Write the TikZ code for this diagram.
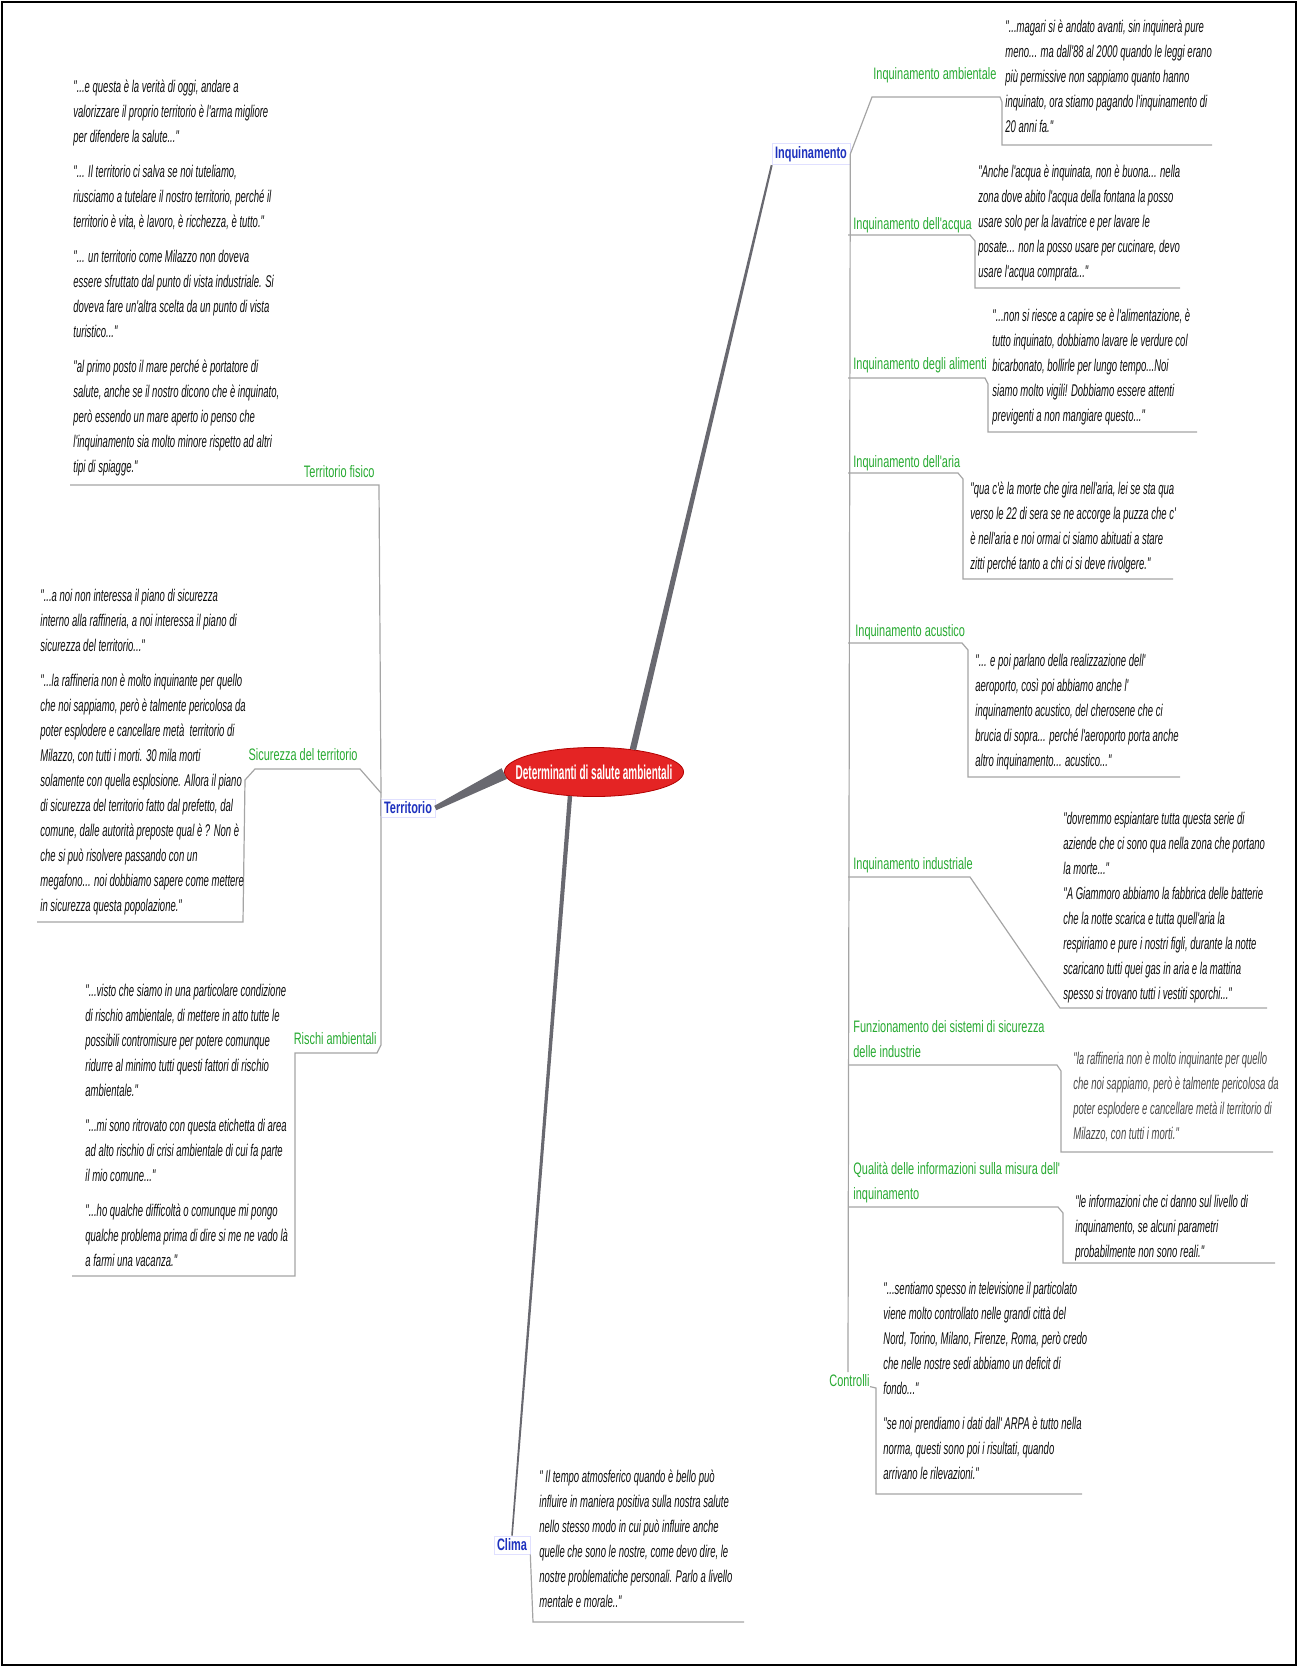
\documentclass[tikz,border=0pt]{standalone}
\usepackage{fontspec}
\setmainfont{Liberation Sans}
\newfontfamily\qfont[FakeStretch=0.56]{Liberation Sans}
\newfontfamily\lfont[FakeStretch=0.66]{Liberation Sans}
\newfontfamily\cfont[FakeStretch=0.5]{Liberation Sans}
\usetikzlibrary{shapes.geometric,calc}
\definecolor{lgreen}{RGB}{40,170,50}
\definecolor{lblue}{RGB}{30,50,190}
\definecolor{lgray}{RGB}{165,165,165}
\definecolor{bgray}{RGB}{105,105,112}
\definecolor{rootred}{RGB}{228,36,36}
\tikzset{
 quote/.style={font=\qfont\itshape\fontsize{8.5pt}{12.5pt}\selectfont, text=black!95, align=left, inner sep=0pt, anchor=north west},
 sub/.style={font=\lfont\fontsize{8.3pt}{12.5pt}\selectfont, text=lgreen, align=left, inner sep=0pt},
 mainlab/.style={font=\lfont\bfseries\fontsize{8.3pt}{10pt}\selectfont, text=lblue, draw=blue!12, fill=white, inner sep=1.5pt},
 thinline/.style={draw=lgray, line width=0.6pt},
 branch/.style={fill=bgray},
}
\newcommand\mybranch[4]{\fill[branch] ($(#1)!#3!90:(#2)$) -- ($(#2)!#4!-90:(#1)$) -- ($(#2)!#4!90:(#1)$) -- ($(#1)!#3!-90:(#2)$) -- cycle;}
\begin{document}
\begin{tikzpicture}[x=0.5pt,y=-0.5pt]
\useasboundingbox (0,0) rectangle (1298,1667);
\draw[line width=0.8pt] (2,2) rectangle (1296,1665);

% root and main topics
\node[ellipse, fill=rootred, draw=red!70!black, line width=0.4pt, inner xsep=-7.5pt, inner ysep=5pt,
  font=\cfont\bfseries\fontsize{10pt}{12pt}\selectfont, text=white] (root) at (594,772) {Determinanti di salute ambientali};
\node[mainlab] (inq) at (811,154) {Inquinamento};
\node[mainlab] (terr) at (408,808) {Territorio};
\node[mainlab] (clima) at (512,1545) {Clima};

\mybranch{root.30}{inq.south west}{1.6pt}{0.5pt}
\mybranch{root.181}{terr.east}{3pt}{1.2pt}
\mybranch{root.225}{clima.north}{1.1pt}{0.4pt}

% ---------- Territorio ----------
\node[sub, anchor=base east] (tf) at (375,477) {Territorio fisico};
\node[sub, anchor=base east] (sic) at (358,760) {Sicurezza del territorio};
\node[sub, anchor=base east] (ris) at (377,1044) {Rischi ambientali};

\draw[thinline] (terr.west) -- (381,793) -- (379,485) -- (70,485);
\draw[thinline] (381,793) -- (360,769) -- (255,769) -- (245,780) -- (243,922) -- (37,922);
\draw[thinline] (terr.west) -- (381,822) -- (381,1045) -- (377,1053) -- (295,1053) -- (295,1276) -- (72,1276);

\node[quote] (tfq) at (73,80) {"...e questa è la verità di oggi, andare a\\
valorizzare il proprio territorio è l'arma migliore\\
per difendere la salute..."\\[5pt]
"... Il territorio ci salva se noi tuteliamo,\\
riusciamo a tutelare il nostro territorio, perché il\\
territorio è vita, è lavoro, è ricchezza, è tutto."\\[5pt]
"... un territorio come Milazzo non doveva\\
essere sfruttato dal punto di vista industriale. Si\\
doveva fare un'altra scelta da un punto di vista\\
turistico..."\\[5pt]
"al primo posto il mare perché è portatore di\\
salute, anche se il nostro dicono che è inquinato,\\
però essendo un mare aperto io penso che\\
l'inquinamento sia molto minore rispetto ad altri\\
tipi di spiagge."};

\node[quote] (sicq) at (40,589) {"...a noi non interessa il piano di sicurezza\\
interno alla raffineria, a noi interessa il piano di\\
sicurezza del territorio..."\\[5pt]
"...la raffineria non è molto inquinante per quello\\
che noi sappiamo, però è talmente pericolosa da\\
poter esplodere e cancellare metà\ \ territorio di\\
Milazzo, con tutti i morti. 30 mila morti\\
solamente con quella esplosione. Allora il piano\\
di sicurezza del territorio fatto dal prefetto, dal\\
comune, dalle autorità preposte qual è ? Non è\\
che si può risolvere passando con un\\
megafono... noi dobbiamo sapere come mettere\\
in sicurezza questa popolazione."};

\node[quote] (risq) at (85,984) {"...visto che siamo in una particolare condizione\\
di rischio ambientale, di mettere in atto tutte le\\
possibili contromisure per potere comunque\\
ridurre al minimo tutti questi fattori di rischio\\
ambientale."\\[5pt]
"...mi sono ritrovato con questa etichetta di area\\
ad alto rischio di crisi ambientale di cui fa parte\\
il mio comune..."\\[5pt]
"...ho qualche difficoltà o comunque mi pongo\\
qualche problema prima di dire si me ne vado là\\
a farmi una vacanza."};

% ---------- Inquinamento ----------
\node[sub, anchor=base west] (amb) at (873,79) {Inquinamento ambientale};
\node[sub, anchor=base west] (acq) at (853,229) {Inquinamento dell'acqua};
\node[sub, anchor=base west] (alim) at (853,369) {Inquinamento degli alimenti};
\node[sub, anchor=base west] (aria) at (853,467) {Inquinamento dell'aria};
\node[sub, anchor=base west] (acu) at (855,636) {Inquinamento acustico};
\node[sub, anchor=base west] (ind) at (853,869) {Inquinamento industriale};
\node[sub, anchor=north west] (fun) at (853,1020) {Funzionamento dei sistemi di sicurezza\\delle industrie};
\node[sub, anchor=north west] (qual) at (853,1162) {Qualità delle informazioni sulla misura dell'\\inquinamento};
\node[sub, anchor=base west] (ctr) at (829,1386) {Controlli};

\draw[thinline] (inq.east) -- (872,97) -- (1000,97) -- (1002,102) -- (1002,145) -- (1212,145);
\draw[thinline] (inq.east) -- (848,1372);
\draw[thinline] (848,235) -- (970,235) -- (975,241) -- (975,288) -- (1180,288);
\draw[thinline] (848,378) -- (985,378) -- (988,384) -- (988,432) -- (1197,432);
\draw[thinline] (848,473) -- (958,473) -- (963,479) -- (963,579) -- (1173,579);
\draw[thinline] (848,643) -- (962,643) -- (968,650) -- (968,777) -- (1180,777);
\draw[thinline] (848,877) -- (970,877) -- (1060,1008) -- (1267,1008);
\draw[thinline] (848,1065) -- (1057,1065) -- (1061,1071) -- (1061,1152) -- (1273,1152);
\draw[thinline] (848,1207) -- (1058,1207) -- (1063,1213) -- (1063,1263) -- (1275,1263);
\draw[thinline] (ctr.south east) -- (876,1388) -- (876,1494) -- (1082,1494);

\node[quote] (ambq) at (1005,20) {"...magari si è andato avanti, sin inquinerà pure\\
meno... ma dall'88 al 2000 quando le leggi erano\\
più permissive non sappiamo quanto hanno\\
inquinato, ora stiamo pagando l'inquinamento di\\
20 anni fa."};

\node[quote] (acqq) at (978,165) {"Anche l'acqua è inquinata, non è buona... nella\\
zona dove abito l'acqua della fontana la posso\\
usare solo per la lavatrice e per lavare le\\
posate... non la posso usare per cucinare, devo\\
usare l'acqua comprata..."};

\node[quote] (alimq) at (992,309) {"...non si riesce a capire se è l'alimentazione, è\\
tutto inquinato, dobbiamo lavare le verdure col\\
bicarbonato, bollirle per lungo tempo...Noi\\
siamo molto vigili! Dobbiamo essere attenti\\
previgenti a non mangiare questo..."};

\node[quote] (ariaq) at (970,482) {"qua c'è la morte che gira nell'aria, lei se sta qua\\
verso le 22 di sera se ne accorge la puzza che c'\\
è nell'aria e noi ormai ci siamo abituati a stare\\
zitti perché tanto a chi ci si deve rivolgere."};

\node[quote] (acuq) at (975,654) {"... e poi parlano della realizzazione dell'\\
aeroporto, così poi abbiamo anche l'\\
inquinamento acustico, del cherosene che ci\\
brucia di sopra... perché l'aeroporto porta anche\\
altro inquinamento... acustico..."};

\node[quote] (indq) at (1063,812) {"dovremmo espiantare tutta questa serie di\\
aziende che ci sono qua nella zona che portano\\
la morte..."\\
"A Giammoro abbiamo la fabbrica delle batterie\\
che la notte scarica e tutta quell'aria la\\
respiriamo e pure i nostri figli, durante la notte\\
scaricano tutti quei gas in aria e la mattina\\
spesso si trovano tutti i vestiti sporchi..."};

\node[quote, text=black!72] (funq) at (1073,1052) {"la raffineria non è molto inquinante per quello\\
che noi sappiamo, però è talmente pericolosa da\\
poter esplodere e cancellare metà il territorio di\\
Milazzo, con tutti i morti."};

\node[quote] (qualq) at (1075,1195) {"le informazioni che ci danno sul livello di\\
inquinamento, se alcuni parametri\\
probabilmente non sono reali."};

\node[quote] (ctrq) at (883,1282) {"...sentiamo spesso in televisione il particolato\\
viene molto controllato nelle grandi città del\\
Nord, Torino, Milano, Firenze, Roma, però credo\\
che nelle nostre sedi abbiamo un deficit di\\
fondo..."\\[5pt]
"se noi prendiamo i dati dall' ARPA è tutto nella\\
norma, questi sono poi i risultati, quando\\
arrivano le rilevazioni."};

% ---------- Clima ----------
\draw[thinline] (clima.south east) -- (533,1622) -- (744,1622);
\node[quote] (climq) at (539,1470) {" Il tempo atmosferico quando è bello può\\
influire in maniera positiva sulla nostra salute\\
nello stesso modo in cui può influire anche\\
quelle che sono le nostre, come devo dire, le\\
nostre problematiche personali. Parlo a livello\\
mentale e morale.."};
\end{tikzpicture}
\end{document}
